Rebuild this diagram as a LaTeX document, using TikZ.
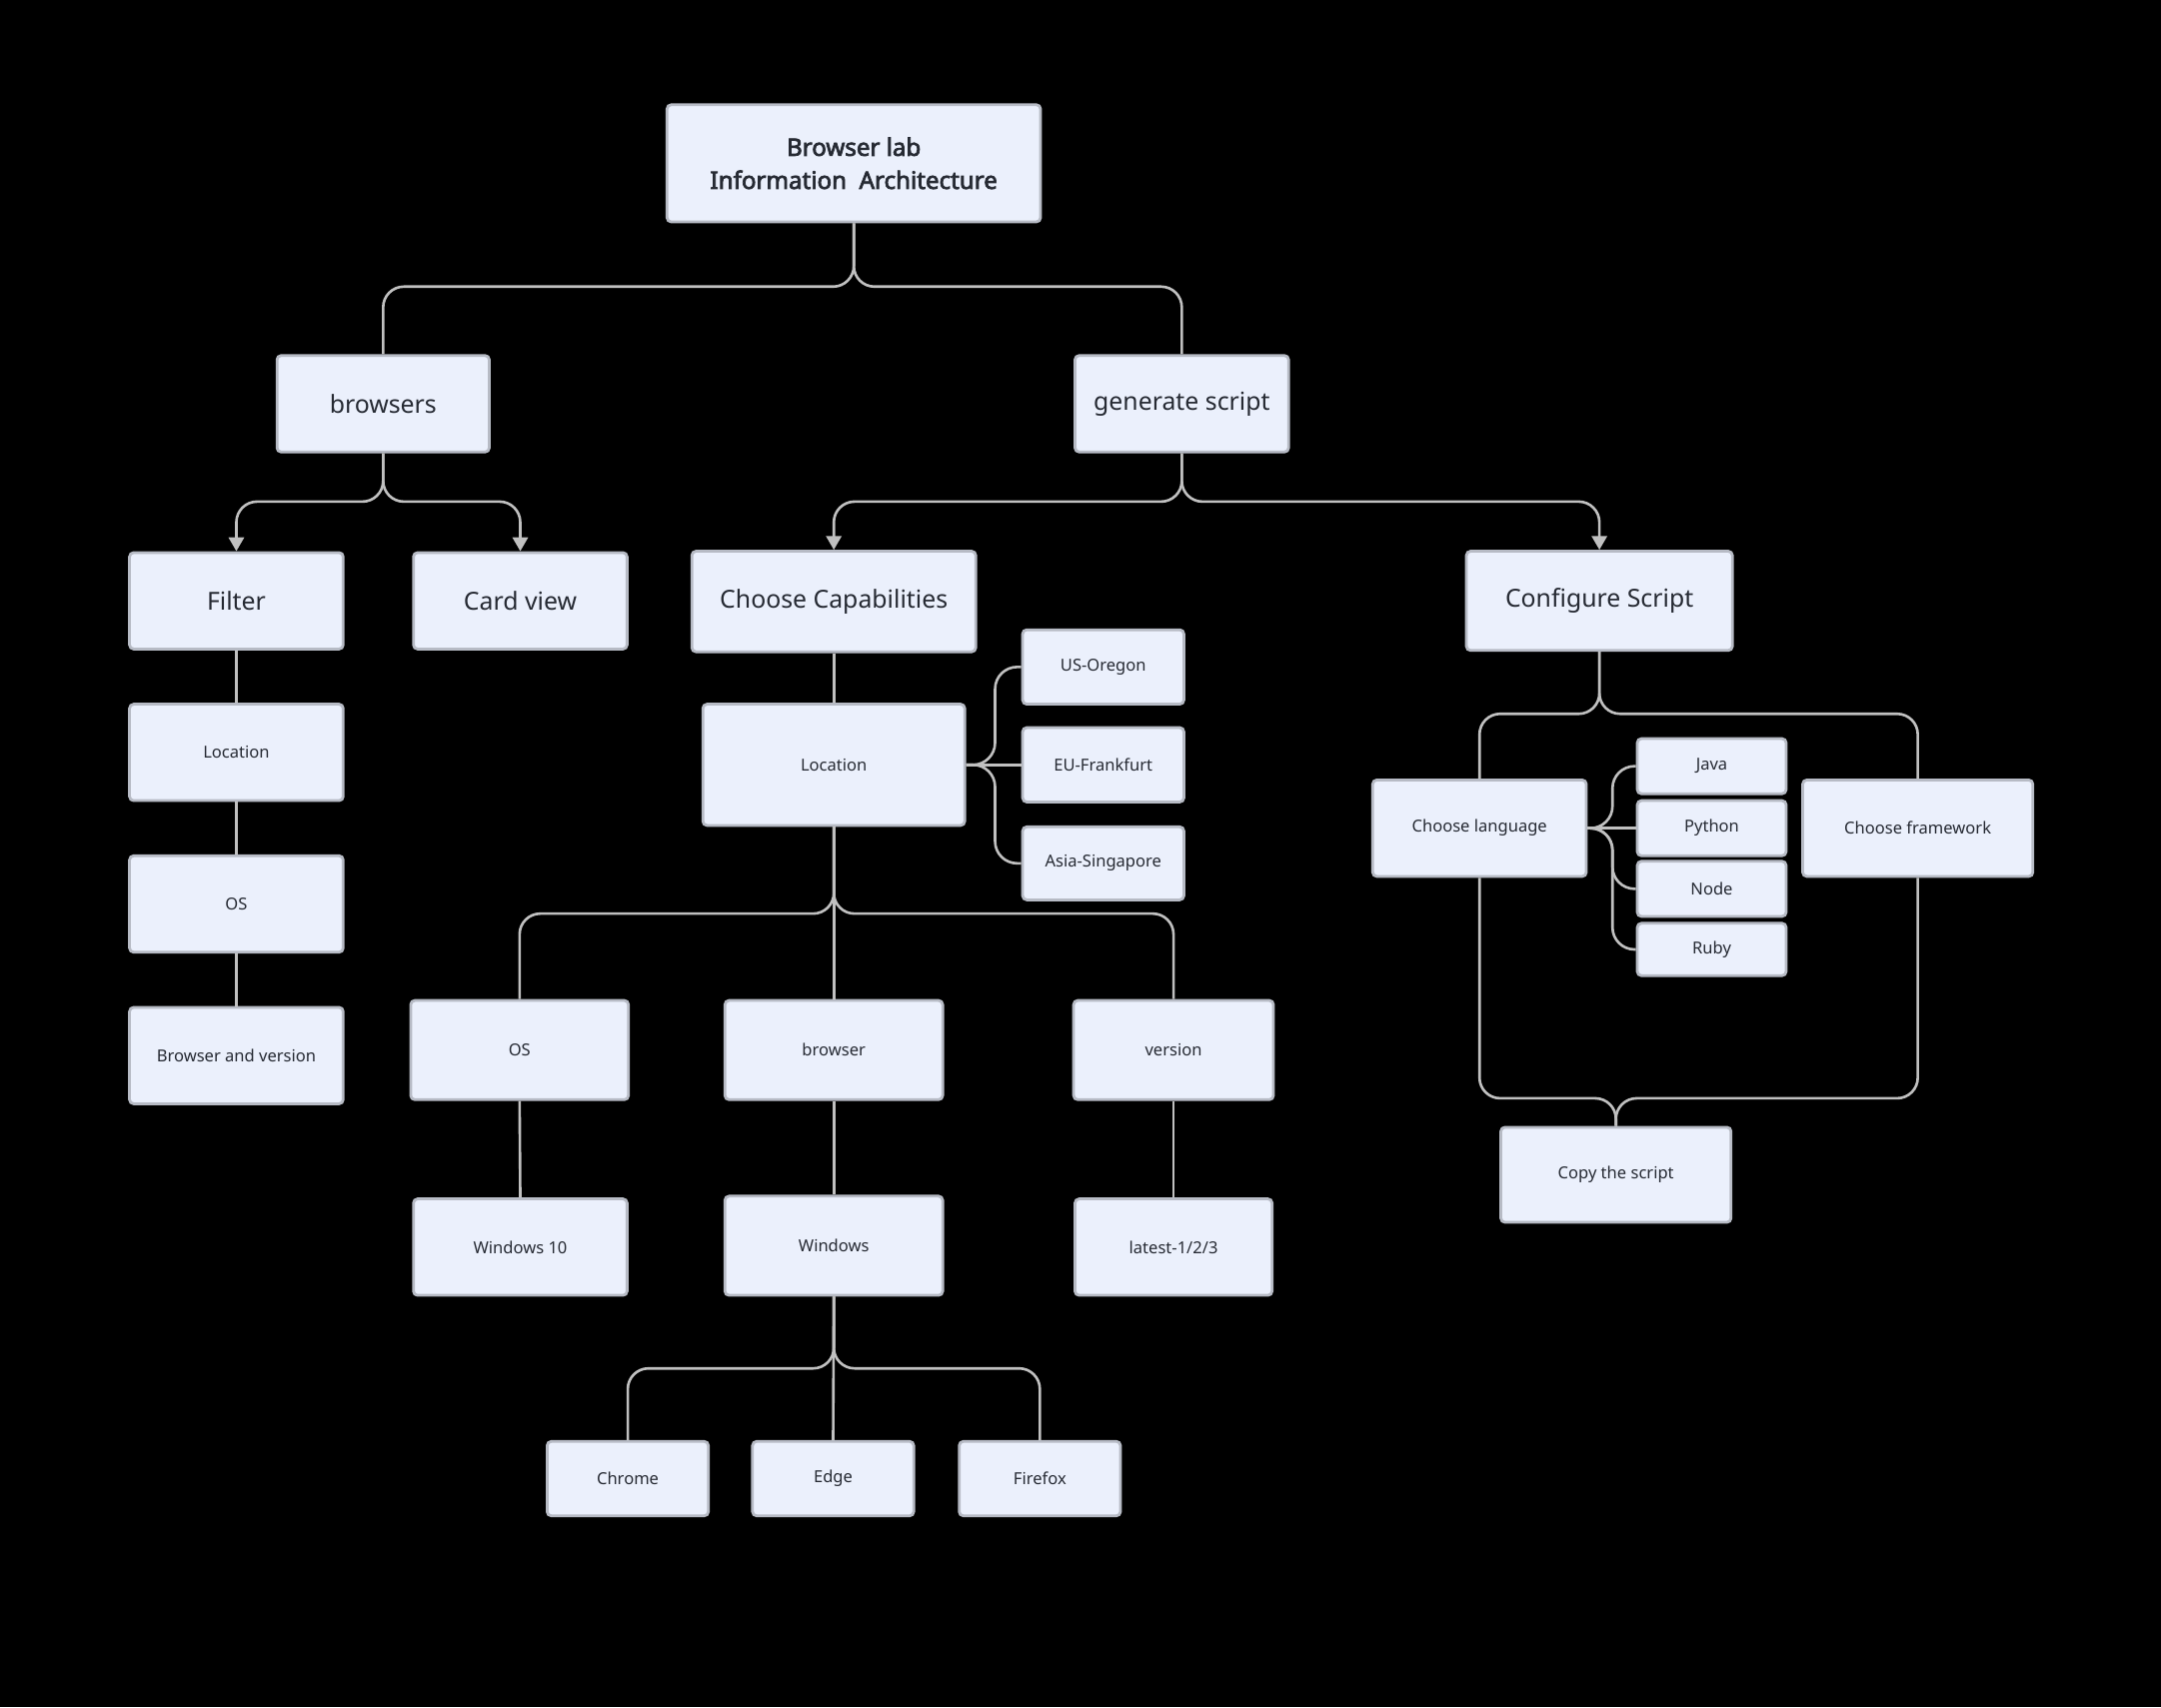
\documentclass[tikz,border=0pt]{standalone}
\usepackage{fontspec}
\setmainfont{Noto Sans}[AutoFakeBold=3]
\usetikzlibrary{arrows.meta}
\definecolor{boxfill}{HTML}{EBF0FC}
\definecolor{boxline}{HTML}{B7BBC5}
\definecolor{txt}{HTML}{262A33}
\definecolor{conncol}{HTML}{C0C0C0}
\tikzset{
  box/.style={draw=boxline, fill=boxfill, line width=2pt, rounded corners=3pt,
    text=txt, align=center, inner sep=0pt, font=\fontsize{12}{14}\selectfont},
  midbox/.style={box, font=\fontsize{18}{22}\selectfont},
  titlebox/.style={box, font=\bfseries\fontsize{17.5}{24}\selectfont},
  conn/.style={draw=conncol, line width=1.9pt, rounded corners=15pt},
  side/.style={conn, rounded corners=16pt},
  arr/.style={conn, -{Triangle[width=11pt,length=10pt]}},
}
\begin{document}
\begin{tikzpicture}[x=1pt,y=-1pt]
\fill[black] (0,0) rectangle (1568,1239);
\useasboundingbox (0,0) rectangle (1568,1239);

% nodes
\node[titlebox, minimum width=271, minimum height=85] (title) at (619.5,118.5) {Browser lab\\Information\ \ Architecture};
\node[midbox, minimum width=154, minimum height=70] (browsers) at (278,293) {browsers};
\node[midbox, minimum width=155, minimum height=70] (gen) at (857.5,293) {generate script};
\node[midbox, minimum width=155, minimum height=70] (filter) at (171.5,436) {Filter};
\node[midbox, minimum width=155, minimum height=70] (card) at (377.5,436) {Card view};
\node[midbox, minimum width=206, minimum height=73] (cap) at (605,436.5) {Choose Capabilities};
\node[midbox, minimum width=193, minimum height=72] (conf) at (1160.5,436) {Configure Script};

\node[box, minimum width=155, minimum height=70] (floc) at (171.5,546) {Location};
\node[box, minimum width=155, minimum height=70] (fos) at (171.5,656) {OS};
\node[box, minimum width=155, minimum height=70] (fbv) at (171.5,766) {Browser and version};

\node[box, minimum width=190, minimum height=88] (loc) at (605,555) {Location};
\node[box, minimum width=117, minimum height=54] (us) at (800.5,484) {US-Oregon};
\node[box, minimum width=117, minimum height=54] (eu) at (800.5,555) {EU-Frankfurt};
\node[box, minimum width=117, minimum height=53] (asia) at (800.5,626.5) {Asia-Singapore};

\node[box, minimum width=158, minimum height=72] (os) at (377,762) {OS};
\node[box, minimum width=158, minimum height=72] (brw) at (605,762) {browser};
\node[box, minimum width=145, minimum height=72] (ver) at (851.5,762) {version};
\node[box, minimum width=155, minimum height=70] (win10) at (377.5,905) {Windows 10};
\node[box, minimum width=158, minimum height=72] (win) at (605,904) {Windows};
\node[box, minimum width=143, minimum height=70] (latest) at (851.5,905) {latest-1/2/3};
\node[box, minimum width=117, minimum height=54] (chrome) at (455.5,1073) {Chrome};
\node[box, minimum width=117, minimum height=54] (edge) at (604.5,1073) {Edge};
\node[box, minimum width=117, minimum height=54] (firefox) at (754.5,1073) {Firefox};

\node[box, minimum width=155, minimum height=70] (lang) at (1073.5,601) {Choose language};
\node[box, minimum width=108, minimum height=40] (java) at (1242,556) {Java};
\node[box, minimum width=108, minimum height=40] (python) at (1242,601) {Python};
\node[box, minimum width=108, minimum height=40] (nodejs) at (1242,645) {Node};
\node[box, minimum width=108, minimum height=38] (ruby) at (1242,689) {Ruby};
\node[box, minimum width=167, minimum height=70] (frame) at (1391.5,601) {Choose framework};
\node[box, minimum width=167, minimum height=69] (copy) at (1172.5,852.5) {Copy the script};

% junction coordinates
\coordinate (tbar) at (619.5,208);
\coordinate (bbar) at (278,364);
\coordinate (gbar) at (857.5,364);
\coordinate (lbar) at (605,663);
\coordinate (wbar) at (605,993);
\coordinate (cbar) at (1160.5,518);
\coordinate (mbar) at (1172.5,797);
\coordinate (lv) at (722,555);
\coordinate (lgv) at (1170,601);

% connectors
\draw[conn] (title.south) -- (tbar) -| (browsers.north);
\draw[conn] (title.south) -- (tbar) -| (gen.north);

\draw[arr] (browsers.south) -- (bbar) -| (filter.north);
\draw[arr] (browsers.south) -- (bbar) -| (card.north);
\draw[arr] (gen.south) -- (gbar) -| (cap.north);
\draw[arr] (gen.south) -- (gbar) -| (conf.north);

\draw[conn] (filter.south) -- (floc.north);
\draw[conn] (floc.south) -- (fos.north);
\draw[conn] (fos.south) -- (fbv.north);

\draw[conn] (cap.south) -- (loc.north);
\draw[side] (loc.east) -- (lv) |- (us.west);
\draw[conn] (loc.east) -- (eu.west);
\draw[side] (loc.east) -- (lv) |- (asia.west);

\draw[conn] (loc.south) -- (lbar) -| (os.north);
\draw[conn] (loc.south) -- (brw.north);
\draw[conn] (loc.south) -- (lbar) -| (ver.north);

\draw[conn] (os.south) -- (win10.north);
\draw[conn] (brw.south) -- (win.north);
\draw[conn] (ver.south) -- (latest.north);

\draw[conn] (win.south) -- (wbar) -| (chrome.north);
\draw[conn] (win.south) -- (edge.north);
\draw[conn] (win.south) -- (wbar) -| (firefox.north);

\draw[conn] (conf.south) -- (cbar) -| (lang.north);
\draw[conn] (conf.south) -- (cbar) -| (frame.north);

\draw[side] (lang.east) -- (lgv) |- (java.west);
\draw[conn] (lang.east) -- (python.west);
\draw[side] (lang.east) -- (lgv) |- (nodejs.west);
\draw[side] (lang.east) -- (lgv) |- (ruby.west);

\draw[conn] (lang.south) |- (mbar) -- (copy.north);
\draw[conn] (frame.south) |- (mbar) -- (copy.north);
\end{tikzpicture}
\end{document}
